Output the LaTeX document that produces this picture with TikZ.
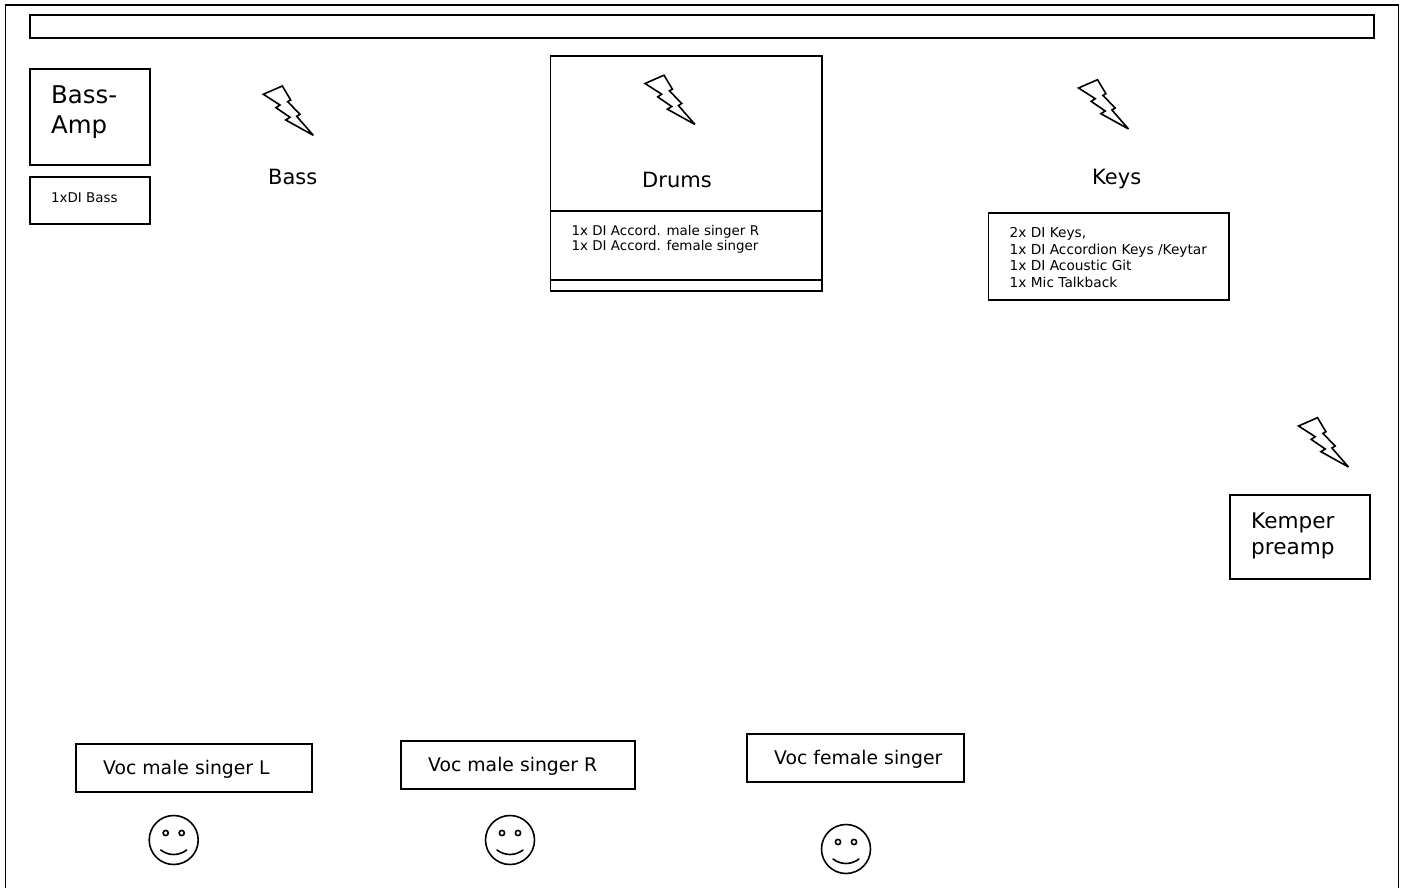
\documentclass[tikz,border=0pt]{standalone}
\usepackage{fontspec}
\setmainfont{DejaVu Sans}
\tikzset{
  x=1pt,y=-1pt,
  frame/.style={draw=black,line width=1.5pt,fill=white},
  lab/.style={anchor=base west,inner sep=0pt,align=left,font=\fontsize{#1}{#1}\selectfont,text=black},
  small/.style={anchor=north west,inner sep=0pt,align=left,font=\fontsize{13.4}{#1}\selectfont,text=black},
  smallk/.style={anchor=north west,inner sep=0pt,align=left,font=\fontsize{13.7}{#1}\selectfont,text=black},
  boltshape/.pic={
    \draw[line width=1.6pt,line join=miter,miter limit=4,fill=white] (0,0) -- (19,-8.3) -- (27.4,5.7) -- (24.4,7.4) -- (36.7,20) -- (33.4,22) -- (50,41) -- (22.4,25.7) -- (26.7,23) -- (12.7,13.4) -- (16.7,10.7) -- cycle;
  },
  smile/.pic={
    \draw[line width=1.6pt,fill=white] (0,0) circle[radius=24.5];
    \draw[line width=1.6pt] (-8,-7) circle[radius=2.6] (8,-7) circle[radius=2.6];
    \draw[line width=1.6pt,line cap=round] (-13,10) .. controls (-5,16) and (5,16) .. (13,10);
  }
}
\newcommand{\boxat}[5]{\path[frame] (#2,#3) rectangle (#4,#5) coordinate (#1);}
\begin{document}
\begin{tikzpicture}
\useasboundingbox (0,0) rectangle (1405,888);
\begin{scope}
\clip (0,0) rectangle (1405,888);
\draw[frame,fill=none] (5.5,5) rectangle (1398.5,900);
\end{scope}
\boxat{topbar}{30}{15}{1374}{38}
\boxat{bassamp}{30}{69}{150}{165}
\boxat{bassdi}{30}{177}{150}{224}
\boxat{drumsbox}{550.5}{56}{822}{291}
\draw[line width=1.5pt] (550.5,211) -- (822,211);
\draw[line width=1.5pt] (550.5,280) -- (822,280);
\boxat{keysbox}{988.5}{213}{1229}{300}
\boxat{kemperbox}{1230}{495}{1370}{579}
\boxat{vocl}{76}{744}{312}{792}
\boxat{vocr}{401}{741}{635}{789}
\boxat{vocf}{747}{734}{964}{782}

\node[lab=24.4] (t1) at (51,104) {Bass-};
\node[lab=24.4] (t2) at (51,134) {Amp};
\node[lab=13.4] (t3) at (51,202) {1xDI Bass};
\node[lab=21] (t4) at (268,184) {Bass};
\node[lab=21] (t5) at (642,187) {Drums};
\node[lab=21] (t6) at (1092,184) {Keys};
\node[small=15.3] (t7) at (571.5,225) {1x DI Accord. male singer R\\1x DI Accord. female singer};
\node[smallk=16.4] (t8) at (1009.5,227.5) {2x DI Keys,\\1x DI Accordion Keys /Keytar\\1x DI Acoustic Git\\1x Mic Talkback};
\node[lab=21.6] (t9) at (1251,528) {Kemper};
\node[lab=21.6] (t10) at (1251,554) {preamp};
\node[lab=18.8] (t11) at (103,774) {Voc male singer L};
\node[lab=18.8] (t12) at (428,771) {Voc male singer R};
\node[lab=18.8] (t13) at (774,764) {Voc female singer};

\pic at (263.3,94.3) {boltshape};
\pic at (645,83.5) {boltshape};
\pic at (1078.5,88) {boltshape};
\pic at (1298.5,426) {boltshape};
\pic at (173.7,840) {smile};
\pic at (510,840) {smile};
\pic at (846,849) {smile};
\end{tikzpicture}
\end{document}
